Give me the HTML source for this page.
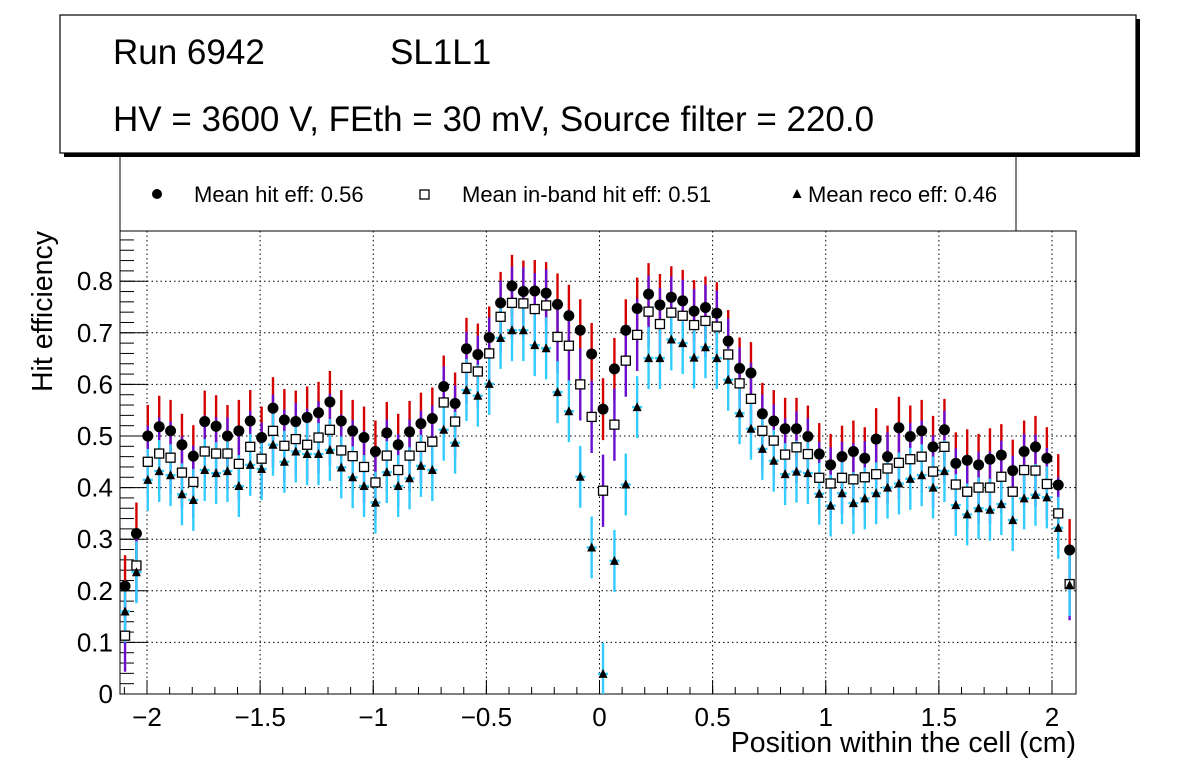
<!DOCTYPE html>
<html><head><meta charset="utf-8"><style>
html,body{margin:0;padding:0;background:#fff;}
svg{display:block;font-family:"Liberation Sans",sans-serif;}
</style></head><body>
<svg id="chart" width="1196" height="772">
<rect x="64" y="19" width="1076" height="138" fill="#000"/>
<rect x="60" y="15" width="1076" height="138" fill="#fff" stroke="#000" stroke-width="1.2"/>
<text x="113" y="64" font-size="35">Run 6942</text>
<text x="390" y="64" font-size="35">SL1L1</text>
<text x="113" y="131" font-size="35">HV = 3600 V, FEth = 30 mV, Source filter = 220.0</text>
<g>
<line x1="120" y1="157" x2="120" y2="231" stroke="#000"/>
<line x1="1016" y1="157" x2="1016" y2="231" stroke="#000"/>
<g><circle cx="157" cy="194" r="5" fill="#000"/><text x="194" y="202" font-size="22">Mean hit  eff: 0.56</text></g>
<g><rect x="420" y="190" width="9" height="9" fill="#fff" stroke="#000" stroke-width="1.3"/><text x="462" y="202" font-size="22">Mean in-band hit eff: 0.51</text></g>
<g><polygon points="797,189 801.5,198 792.5,198" fill="#000"/><text x="808" y="202" font-size="22">Mean reco eff: 0.46</text></g>
</g>
<g id="grid"></g>
<g id="axes"></g>
<g id="marks"></g>
<text x="1076" y="752" font-size="28.5" text-anchor="end">Position within the cell (cm)</text>
<text transform="translate(52,231) rotate(-90)" font-size="28.5" text-anchor="end">Hit efficiency</text>
</svg>
<script>
const hitEff=[0.209,0.311,0.5,0.518,0.51,0.483,0.461,0.528,0.519,0.5,0.51,0.529,0.497,0.554,0.531,0.528,0.536,0.545,0.566,0.529,0.51,0.497,0.47,0.506,0.483,0.508,0.524,0.534,0.596,0.563,0.669,0.658,0.691,0.758,0.791,0.78,0.781,0.777,0.755,0.733,0.705,0.659,0.552,0.63,0.705,0.747,0.775,0.754,0.769,0.762,0.742,0.749,0.738,0.684,0.631,0.622,0.543,0.529,0.514,0.514,0.499,0.465,0.444,0.46,0.47,0.457,0.494,0.46,0.516,0.499,0.51,0.479,0.512,0.447,0.453,0.444,0.455,0.463,0.433,0.47,0.479,0.457,0.405,0.279];
const inbandEff=[0.113,0.249,0.45,0.466,0.458,0.429,0.411,0.47,0.466,0.466,0.446,0.479,0.456,0.51,0.481,0.494,0.483,0.497,0.512,0.472,0.461,0.44,0.41,0.462,0.434,0.462,0.479,0.489,0.565,0.528,0.632,0.625,0.66,0.731,0.758,0.757,0.746,0.753,0.692,0.675,0.6,0.537,0.394,0.522,0.646,0.696,0.741,0.717,0.739,0.733,0.715,0.723,0.712,0.658,0.602,0.572,0.51,0.491,0.464,0.478,0.465,0.419,0.408,0.419,0.416,0.42,0.426,0.437,0.448,0.455,0.46,0.431,0.479,0.406,0.392,0.4,0.4,0.421,0.392,0.434,0.433,0.407,0.35,0.213];
const recoEff=[0.16,0.236,0.415,0.432,0.424,0.387,0.376,0.434,0.428,0.432,0.403,0.444,0.436,0.483,0.45,0.47,0.465,0.465,0.473,0.439,0.42,0.403,0.371,0.43,0.403,0.418,0.442,0.434,0.512,0.487,0.589,0.578,0.601,0.69,0.705,0.705,0.676,0.67,0.585,0.548,0.421,0.284,0.039,0.258,0.406,0.556,0.651,0.651,0.687,0.68,0.652,0.672,0.651,0.609,0.544,0.514,0.475,0.452,0.426,0.431,0.428,0.388,0.365,0.389,0.37,0.379,0.389,0.4,0.408,0.417,0.424,0.4,0.432,0.366,0.348,0.36,0.357,0.368,0.337,0.379,0.386,0.381,0.322,0.211];
const hitErr=[0.06];const inbandErr=[0.07];const recoErr=[0.06];
const xStart=-2.097, xStep=0.0503;
const xTicks=[-2,-1.5,-1,-0.5,0,0.5,1,1.5,2];
const xTickLabels=["\u22122","\u22121.5","\u22121","\u22120.5","0","0.5","1","1.5","2"];
const yTicks=[0,0.1,0.2,0.3,0.4,0.5,0.6,0.7,0.8];
const yTickLabels=["0","0.1","0.2","0.3","0.4","0.5","0.6","0.7","0.8"];

const L=120,R=1076,T=231,B=694;
const X=v=>599.5+v*226.25;
const Y=v=>694-v*516;
const NS="http://www.w3.org/2000/svg";
function mk(tag,attrs,parent){const e=document.createElementNS(NS,tag);for(const k in attrs)e.setAttribute(k,attrs[k]);parent.appendChild(e);return e;}
const grid=document.getElementById('grid'),axes=document.getElementById('axes'),marks=document.getElementById('marks');
xTicks.forEach((t,i)=>{
  const g=mk('line',{x1:X(t),x2:X(t),y1:T,y2:B,stroke:'#000','stroke-width':1,'stroke-dasharray':'1.5,3'},grid);
  
  
  const tk=mk('line',{x1:X(t),x2:X(t),y1:B,y2:B-14,stroke:'#000'},axes);
  
  
  const tx=mk('text',{x:X(t),y:726,'font-size':26,'text-anchor':'middle'},axes);tx.textContent=xTickLabels[i];
  
  
});
for(let v=-2.1;v<=2.1;v+=0.1){const x=X(v);if(x<L||x>R)continue;mk('line',{x1:x,x2:x,y1:B,y2:B-7,stroke:'#000'},axes);}
yTicks.forEach((t,i)=>{
  const g=mk('line',{x1:L,x2:R,y1:Y(t),y2:Y(t),stroke:'#000','stroke-width':1,'stroke-dasharray':'1.5,3'},grid);
  
  
  const tk=mk('line',{x1:L,x2:L+28,y1:Y(t),y2:Y(t),stroke:'#000'},axes);
  
  
  const tx=mk('text',{x:113,y:Y(t)+9,'font-size':26,'text-anchor':'end'},axes);tx.textContent=yTickLabels[i];
  
  
});
for(let v=0.02;v<0.9;v+=0.02){mk('line',{x1:L,x2:L+14,y1:Y(v),y2:Y(v),stroke:'#000'},axes);}
const fr=mk('rect',{x:L,y:T,width:R-L,height:B-T,fill:'none',stroke:'#000'},axes);


const xs=i=>X(xStart+i*xStep);
function bars(arr,err,col,name){arr.forEach((v,i)=>{const e=err[0];
  const l=mk('line',{x1:xs(i),x2:xs(i),y1:Y(Math.min(v+e,0.897)),y2:Y(Math.max(v-e,0)),stroke:col,'stroke-width':2.4},marks);
  
  
  mk('line',{x1:xs(i)-5,x2:xs(i)+5,y1:Y(v),y2:Y(v),stroke:col,'stroke-width':2.4},marks);});}
bars(hitEff,hitErr,'#d40000','hit-error-bar');
bars(inbandEff,inbandErr,'#6a0fd0','inband-error-bar');
bars(recoEff,recoErr,'#33ccff','reco-error-bar');
hitEff.forEach((v,i)=>{const c=mk('circle',{cx:xs(i),cy:Y(v),r:5.5,fill:'#000'},marks);
  
  });
inbandEff.forEach((v,i)=>{const r=mk('rect',{x:xs(i)-4.5,y:Y(v)-4.5,width:9,height:9,fill:'#fff',stroke:'#000','stroke-width':1.3},marks);
  
  });
recoEff.forEach((v,i)=>{const x=xs(i),y=Y(v);const p=mk('polygon',{points:`${x},${y-5} ${x+4.5},${y+4} ${x-4.5},${y+4}`,fill:'#000'},marks);
  
  });
</script>
</body></html>
